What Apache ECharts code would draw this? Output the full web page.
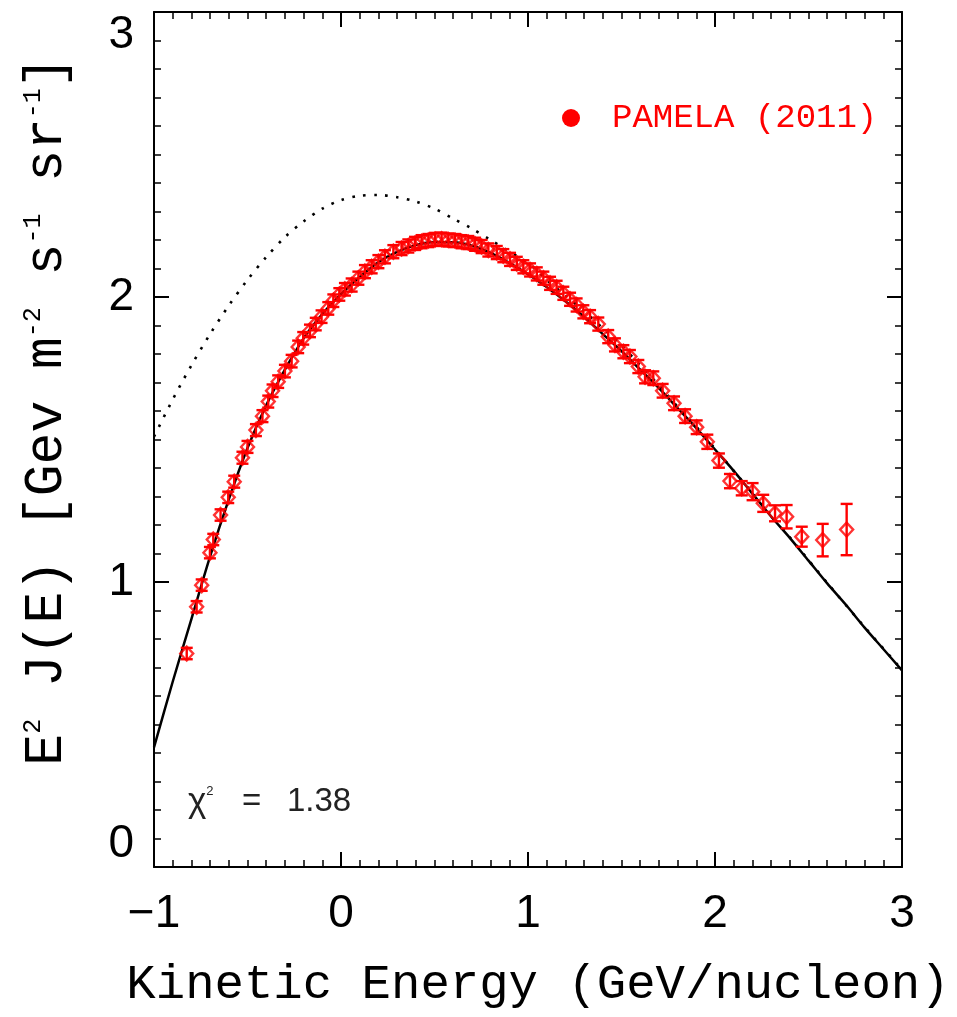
<!DOCTYPE html>
<html><head><meta charset="utf-8">
<script src="https://cdn.jsdelivr.net/npm/echarts@6/dist/echarts.min.js"></script>
<style>html,body{margin:0;padding:0;background:#fff}#c{width:957px;height:1017px}</style>
</head><body><div id="c"></div>
<script>
// ---- data ----
const dataX = [-0.825,-0.772,-0.745,-0.701,-0.683,-0.644,-0.603,-0.571,-0.527,-0.500,-0.455,-0.420,-0.389,-0.366,-0.336,-0.300,-0.264,-0.229,-0.202,-0.166,-0.135,-0.104,-0.068,-0.041,-0.009,0.021,
 0.057,0.093,0.128,0.164,0.200,0.235,0.280,0.324,0.360,0.396,0.431,0.467,0.503,0.538,0.574,0.610,0.645,0.681,0.717,0.752,0.788,0.833,0.868,0.904,0.940,0.975,1.011,1.047,1.082,1.118,1.153,1.189,1.225,1.260,1.296,1.332,1.376,
 1.429,1.465,1.510,1.545,1.590,1.626,1.670,1.720,1.781,1.840,1.902,1.959,2.021,2.080,2.143,2.201,2.258,2.321,2.383,2.464,2.576,2.704];
const dataY = [0.749,0.913,0.989,1.103,1.149,1.235,1.297,1.352,1.436,1.474,1.533,1.582,1.633,1.671,1.703,1.740,1.775,1.825,1.855,1.881,1.905,1.931,1.960,1.987,2.009,2.027,
 2.042,2.066,2.089,2.106,2.124,2.141,2.159,2.170,2.179,2.188,2.194,2.198,2.202,2.203,2.200,2.198,2.194,2.191,2.185,2.177,2.165,2.156,2.145,2.132,2.118,2.106,2.095,2.081,2.066,2.048,2.034,2.013,1.992,1.972,1.948,1.931,1.905,
 1.861,1.832,1.808,1.791,1.756,1.720,1.715,1.671,1.627,1.582,1.543,1.492,1.426,1.354,1.329,1.317,1.276,1.241,1.229,1.159,1.147,1.184];
const dataErr = [0.02,0.02,0.02,0.02,0.02,0.02,0.02,0.021,0.021,0.021,0.021,0.021,0.021,0.022,0.022,0.022,0.022,0.022,0.022,0.022,0.022,0.022,0.022,0.022,0.022,0.022,
 0.023,0.023,0.023,0.023,0.023,0.023,0.023,0.023,0.023,0.023,0.023,0.023,0.023,0.023,0.023,0.023,0.023,0.023,0.023,0.023,0.023,0.023,0.023,0.023,0.023,0.023,0.023,0.023,0.023,0.023,0.023,0.023,0.023,0.023,0.023,0.023,0.023,
 0.023,0.023,0.023,0.023,0.023,0.023,0.024,0.024,0.024,0.024,0.024,0.025,0.025,0.025,0.025,0.03,0.03,0.028,0.041,0.035,0.057,0.09];
const modelX = [-1,-0.9,-0.8,-0.7,-0.6,-0.5,-0.4,-0.3,-0.2,-0.1,0,0.1,0.2,0.3,0.4,0.5,0.6,0.7,0.8,0.9,1.0,1.1,1.2,1.3,1.4,1.5,1.6,1.7,1.8,1.9,2.0,2.1,2.2,2.3,2.4,2.5,2.6,2.7,2.8,2.9,3.0];
const modelY = [0.42,0.65,0.87,1.09,1.29,1.47,1.62,1.745,1.855,1.94,2.01,2.07,2.122,2.158,2.182,2.193,2.192,2.18,2.155,2.12,2.08,2.035,1.985,1.93,1.87,1.81,1.745,1.68,1.61,1.54,1.465,1.39,1.31,1.23,1.155,1.075,0.995,0.92,0.84,0.765,0.69];
const lisX = [-1,-0.9,-0.8,-0.7,-0.6,-0.5,-0.4,-0.3,-0.2,-0.1,0,0.1,0.2,0.3,0.4,0.5,0.6,0.7,0.8,0.9,1.0,1.1,1.2,1.3,1.4,1.5,1.6,1.7,1.8,1.9,2.0,2.2,2.4,2.6,2.8,3.0];
const lisY = [1.51,1.64,1.76,1.87,1.97,2.06,2.14,2.21,2.265,2.31,2.34,2.355,2.358,2.35,2.335,2.31,2.275,2.24,2.20,2.16,2.12,2.06,2.005,1.95,1.89,1.83,1.76,1.69,1.615,1.545,1.468,1.312,1.157,0.997,0.842,0.692];
const xTickLabels = ['−1','0','1','2','3'];
const yTickLabels = ['0','1','2','3'];
const seriesName = 'PAMELA (2011)';
const chiText = '1.38';

// ---- chart ----
const chart = echarts.init(document.getElementById('c'), null, {renderer:'canvas'});
const pts = dataX.map((x,i)=>[x, dataY[i], dataErr[i]]);
const model = modelX.map((x,i)=>[x, modelY[i]]);
const lis = lisX.map((x,i)=>[x, lisY[i]]);
const RED = '#ff0000';
const tickFont = '"Liberation Sans", sans-serif';
const monoFont = '"Liberation Mono", monospace';

function xAxisCfg(pos, showLabel){
  return {type:'value', min:-1, max:3, interval:1, position:pos, gridIndex:0,
    axisLine:{onZero:false, lineStyle:{color:'#000', width:2}},
    axisTick:{inside:true, length:15, lineStyle:{color:'#000', width:2}},
    minorTick:{show:true, splitNumber:10, length:7, lineStyle:{color:'#000', width:1.5}},
    splitLine:{show:false}, minorSplitLine:{show:false},
    axisLabel:{show:showLabel, fontSize:46, fontFamily:tickFont, color:'#000', margin:24,
      formatter:(v)=>xTickLabels[Math.round(v)+1]}};
}
function yAxisCfg(pos, showLabel){
  return {type:'value', min:0, max:3, interval:1, position:pos, gridIndex:0,
    axisLine:{onZero:false, lineStyle:{color:'#000', width:2}},
    axisTick:{inside:true, length:15, lineStyle:{color:'#000', width:2}},
    minorTick:{show:true, splitNumber:10, length:7, lineStyle:{color:'#000', width:1.5}},
    splitLine:{show:false}, minorSplitLine:{show:false},
    axisLabel:{show:showLabel, fontSize:46, fontFamily:tickFont, color:'#000', margin:20,
      verticalAlignMinLabel:'bottom', verticalAlignMaxLabel:'top',
      formatter:(v)=>yTickLabels[Math.round(v)]}};
}

const option = {
  animation:false,
  backgroundColor:'#fff',
  grid:{left:154, right:55, top:12, bottom:150, containLabel:false},
  xAxis:[xAxisCfg('bottom', true), xAxisCfg('top', false)],
  yAxis:[yAxisCfg('left', true), yAxisCfg('right', false)],
  series:[
    {type:'line', data:lis, showSymbol:false, smooth:0.3, silent:true, z:2,
      lineStyle:{color:'#000', width:2.6, type:[2.6,8.4], cap:'butt'}},
    {type:'line', data:model, showSymbol:false, smooth:0.3, silent:true, z:3,
      lineStyle:{color:'#000', width:2.5}},
    {type:'custom', data:pts, z:4, silent:true,
      renderItem:(params, api)=>{
        const x = api.value(0), y = api.value(1), e = api.value(2);
        const t = api.coord([x, y+e]), b = api.coord([x, y-e]);
        const h = 6;
        const st = {stroke:RED, lineWidth:2.4};
        return {type:'group', children:[
          {type:'line', shape:{x1:t[0], y1:t[1], x2:b[0], y2:b[1]}, style:st},
          {type:'line', shape:{x1:t[0]-h, y1:t[1], x2:t[0]+h, y2:t[1]}, style:st},
          {type:'line', shape:{x1:b[0]-h, y1:b[1], x2:b[0]+h, y2:b[1]}, style:st}
        ]};
      }},
    {type:'scatter', name:seriesName, data:pts.map(p=>[p[0],p[1]]), z:5, symbol:'diamond', symbolSize:[13,14],
      itemStyle:{color:'rgba(0,0,0,0)', borderColor:RED, borderWidth:2.4}}
  ],
  graphic:[
    {type:'circle', shape:{cx:571, cy:118, r:9}, style:{fill:RED}},
    {type:'text', x:612, y:118, style:{text:seriesName, fill:RED, font:'34px "Liberation Mono", monospace', verticalAlign:'middle', align:'left'}},
    {type:'text', x:188, y:802, style:{text:'{a|χ}{s|2}', fill:'#222', verticalAlign:'middle', align:'left',
      rich:{a:{fontSize:35, fontFamily:tickFont, fill:'#222'}, s:{fontSize:13, fontFamily:tickFont, fill:'#222', verticalAlign:'top'}}}},
    {type:'text', x:242, y:802, style:{text:'=', fill:'#222', font:'33px "Liberation Sans", sans-serif', verticalAlign:'middle', align:'left'}},
    {type:'text', x:287, y:802, style:{text:chiText, fill:'#222', font:'33px "Liberation Sans", sans-serif', verticalAlign:'middle', align:'left'}},
    {type:'text', x:538, y:985, style:{text:'Kinetic Energy (GeV/nucleon)', fill:'#000', font:'49px "Liberation Mono", monospace', verticalAlign:'middle', align:'center'}},
    {type:'text', x:47, y:411, rotation:Math.PI/2, style:{
      text:'{n|E}{s|2}{n| J(E) [Gev m}{s|-2}{n| s}{s|-1}{n| sr}{s|-1}{n|]}',
      align:'center', verticalAlign:'middle', fill:'#000',
      rich:{n:{fontSize:53, fontFamily:monoFont, fill:'#000'}, s:{fontSize:25, fontFamily:monoFont, fill:'#000', verticalAlign:'top'}}}}
  ]
};
chart.setOption(option);
</script>
</body></html>
